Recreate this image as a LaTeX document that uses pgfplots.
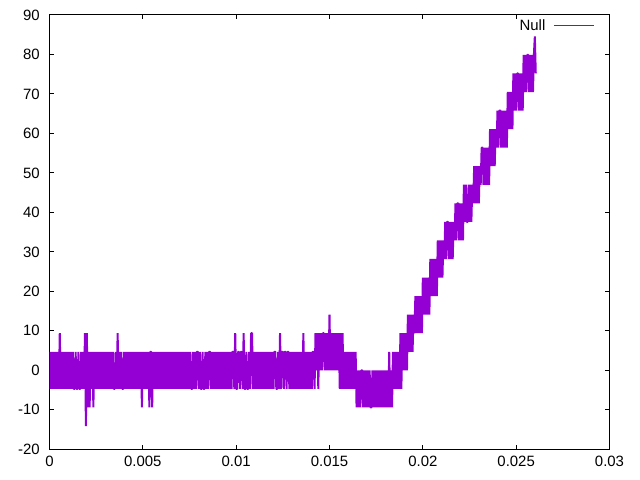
\documentclass[border=0pt]{standalone}
\usepackage{fontspec}
\setmainfont{Liberation Sans}
\usepackage{pgfplots}
\pgfplotsset{compat=1.18}
\definecolor{gpviolet}{RGB}{148,0,211}
\begin{document}
\begin{tikzpicture}
\path[use as bounding box] (-49.5bp,-30.7bp) rectangle (590.5bp,449.3bp);
\begin{axis}[
  at={(0,0)}, anchor=south west,
  scale only axis, width=560bp, height=434.3bp,
  xmin=0, xmax=600, ymin=-20, ymax=90,
  xtick={0,100,200,300,400,500,600},
  xticklabels={0,0.005,0.01,0.015,0.02,0.025,0.03},
  ytick={-20,-10,0,10,20,30,40,50,60,70,80,90},
  yticklabels={-20,-10,0,10,20,30,40,50,60,70,80,90},
  scaled x ticks=false,
  tick align=inside, major tick length=4.5bp,
  tick style={black, line width=1bp},
  axis line style={black, line width=1bp},
  ticklabel style={font=\fontsize{15}{17}\selectfont, inner sep=0pt},
  xticklabel style={yshift=-7bp},
  yticklabel style={xshift=-9.6bp},
  legend style={draw=none, fill=none, inner sep=0pt, outer sep=0pt,
    at={(axis description cs:0.9729,0.9747)}, anchor=east,
    nodes={inner sep=0pt}, column sep=8bp,
    font=\fontsize{15}{17}\selectfont},
  legend plot pos=right,
  legend image code/.code={\draw[#1, line width=1bp] (0bp,0bp) -- (40bp,0bp);},
]
\addplot[gpviolet, line width=2bp, line join=bevel] table[row sep=\\] {
x y\\
0 -4.7\\1 4.7\\2 -4.7\\3 4.7\\4 -4.7\\5 4.7\\6 -4.7\\7 4.7\\8 -4.7\\9 4.7\\
10 -4.7\\11 9.4\\12 -4.7\\13 4.7\\14 -4.7\\15 4.7\\16 -4.7\\17 4.7\\18 -4.7\\19 4.7\\
20 -4.7\\21 4.7\\22 -4.7\\23 4.7\\24 -4.7\\25 4.7\\26 -4.7\\27 -4.7\\28 4.7\\29 -4.7\\
30 -4.7\\31 4.7\\32 -4.7\\33 -4.7\\34 4.7\\35 -4.7\\36 4.7\\37 -4.7\\38 9.4\\39 -14.1\\
40 9.4\\41 -9.4\\42 4.7\\43 -9.4\\44 4.7\\45 -4.7\\46 4.7\\47 -9.4\\48 4.7\\49 -4.7\\
50 4.7\\51 -4.7\\52 4.7\\53 -4.7\\54 4.7\\55 -4.7\\56 4.7\\57 -4.7\\58 4.7\\59 -4.7\\
60 4.7\\61 -4.7\\62 4.7\\63 -4.7\\64 4.7\\65 -4.7\\66 4.7\\67 -4.7\\68 4.7\\69 -4.7\\
70 -4.7\\71 4.7\\72 -4.7\\73 9.4\\74 -4.7\\75 4.7\\76 -4.7\\77 4.7\\78 -4.7\\79 -4.7\\
80 4.7\\81 -4.7\\82 4.7\\83 -4.7\\84 4.7\\85 -4.7\\86 4.7\\87 -4.7\\88 4.7\\89 -4.7\\
90 4.7\\91 -4.7\\92 4.7\\93 -4.7\\94 4.7\\95 -4.7\\96 4.7\\97 -4.7\\98 4.7\\99 -9.4\\
100 4.7\\101 -4.7\\102 4.7\\103 -4.7\\104 4.7\\105 -4.7\\106 4.7\\107 -9.4\\108 4.7\\109 4.7\\
110 -9.4\\111 4.7\\112 -4.7\\113 4.7\\114 -4.7\\115 4.7\\116 -4.7\\117 4.7\\118 -4.7\\119 4.7\\
120 -4.7\\121 4.7\\122 -4.7\\123 4.7\\124 -4.7\\125 4.7\\126 -4.7\\127 4.7\\128 -4.7\\129 4.7\\
130 -4.7\\131 4.7\\132 -4.7\\133 4.7\\134 -4.7\\135 4.7\\136 -4.7\\137 4.7\\138 -4.7\\139 4.7\\
140 -4.7\\141 4.7\\142 -4.7\\143 4.7\\144 -4.7\\145 4.7\\146 -4.7\\147 4.7\\148 -4.7\\149 4.7\\
150 -4.7\\151 4.7\\152 -4.7\\153 -4.7\\154 4.7\\155 -4.7\\156 4.7\\157 -4.7\\158 4.7\\159 4.7\\
160 -4.7\\161 4.7\\162 -4.7\\163 -4.7\\164 4.7\\165 -4.7\\166 -4.7\\167 4.7\\168 -4.7\\169 4.7\\
170 -4.7\\171 4.7\\172 4.7\\173 -4.7\\174 4.7\\175 -4.7\\176 4.7\\177 -4.7\\178 4.7\\179 -4.7\\
180 4.7\\181 -4.7\\182 4.7\\183 -4.7\\184 4.7\\185 -4.7\\186 4.7\\187 -4.7\\188 4.7\\189 -4.7\\
190 4.7\\191 -4.7\\192 4.7\\193 -4.7\\194 4.7\\195 -4.7\\196 4.7\\197 4.7\\198 -4.7\\199 9.4\\
200 -4.7\\201 -4.7\\202 4.7\\203 4.7\\204 -4.7\\205 4.7\\206 4.7\\207 -4.7\\208 9.4\\209 -4.7\\
210 -4.7\\211 4.7\\212 -4.7\\213 -4.7\\214 4.7\\215 -4.7\\216 9.4\\217 9.4\\218 -4.7\\219 4.7\\
220 -4.7\\221 4.7\\222 -4.7\\223 4.7\\224 -4.7\\225 4.7\\226 -4.7\\227 4.7\\228 -4.7\\229 4.7\\
230 -4.7\\231 4.7\\232 -4.7\\233 4.7\\234 -4.7\\235 4.7\\236 -4.7\\237 4.7\\238 -4.7\\239 4.7\\
240 -4.7\\241 4.7\\242 4.7\\243 -4.7\\244 -4.7\\245 4.7\\246 -4.7\\247 9.4\\248 -4.7\\249 4.7\\
250 4.7\\251 -4.7\\252 4.7\\253 4.7\\254 -4.7\\255 4.7\\256 4.7\\257 -4.7\\258 4.7\\259 -4.7\\
260 4.7\\261 -4.7\\262 4.7\\263 -4.7\\264 4.7\\265 -4.7\\266 4.7\\267 -4.7\\268 4.7\\269 -4.7\\
270 4.7\\271 -4.7\\272 9.4\\273 -4.7\\274 4.7\\275 -4.7\\276 4.7\\277 -4.7\\278 4.7\\279 -4.7\\
280 4.7\\281 -4.7\\282 4.7\\283 4.7\\284 -4.7\\285 9.4\\286 0\\287 9.4\\288 -4.7\\289 9.4\\
290 0\\291 9.4\\292 0\\293 9.4\\294 9.4\\295 0\\296 9.4\\297 0\\298 9.4\\299 0\\
300 14.1\\301 0\\302 9.4\\303 0\\304 9.4\\305 0\\306 9.4\\307 0\\308 9.4\\309 0\\
310 9.4\\311 -4.7\\312 9.4\\313 -4.7\\314 9.4\\315 -4.7\\316 4.7\\317 -4.7\\318 4.7\\319 -4.7\\
320 4.7\\321 -4.7\\322 4.7\\323 -4.7\\324 4.7\\325 -4.7\\326 4.7\\327 -4.7\\328 4.7\\329 -9.4\\
330 0\\331 -9.4\\332 0\\333 -9.4\\334 0\\335 0\\336 -9.4\\337 0\\338 -9.4\\339 0\\
340 -9.4\\341 0\\342 -9.4\\343 0\\344 -9.4\\345 -9.4\\346 0\\347 -9.4\\348 0\\349 -9.4\\
350 0\\351 -9.4\\352 0\\353 -9.4\\354 0\\355 -9.4\\356 0\\357 -9.4\\358 0\\359 -9.4\\
360 0\\361 -9.4\\362 0\\363 -9.4\\364 4.7\\365 -9.4\\366 0\\367 -9.4\\368 4.7\\369 -4.7\\
370 4.7\\371 -4.7\\372 4.7\\373 -4.7\\374 4.7\\375 -4.7\\376 9.4\\377 -4.7\\378 9.4\\379 0\\
380 9.4\\381 0\\382 9.4\\383 0\\384 14.1\\385 4.7\\386 14.1\\387 4.7\\388 14.1\\389 4.7\\
390 14.1\\391 9.4\\392 18.8\\393 9.4\\394 18.8\\395 9.4\\396 18.8\\397 9.4\\398 18.8\\399 9.4\\
400 23.5\\401 14.1\\402 23.5\\403 14.1\\404 23.5\\405 14.1\\406 23.5\\407 14.1\\408 28.2\\409 18.8\\
410 28.2\\411 18.8\\412 28.2\\413 18.8\\414 28.2\\415 18.8\\416 32.9\\417 23.5\\418 32.9\\419 23.5\\
420 32.9\\421 23.5\\422 32.9\\423 28.2\\424 37.6\\425 28.2\\426 37.6\\427 37.6\\428 28.2\\429 37.6\\
430 28.2\\431 37.6\\432 28.2\\433 37.6\\434 32.9\\435 42.3\\436 32.9\\437 42.3\\438 42.3\\439 32.9\\
440 42.3\\441 32.9\\442 42.3\\443 32.9\\444 47\\445 37.6\\446 47\\447 37.6\\448 37.6\\449 47\\
450 37.6\\451 47\\452 37.6\\453 47\\454 42.3\\455 51.7\\456 42.3\\457 51.7\\458 42.3\\459 51.7\\
460 42.3\\461 51.7\\462 47\\463 56.4\\464 56.4\\465 47\\466 56.4\\467 47\\468 56.4\\469 47\\
470 56.4\\471 47\\472 61.1\\473 51.7\\474 61.1\\475 51.7\\476 61.1\\477 51.7\\478 61.1\\479 56.4\\
480 65.8\\481 56.4\\482 65.8\\483 65.8\\484 56.4\\485 65.8\\486 56.4\\487 65.8\\488 56.4\\489 65.8\\
490 56.4\\491 70.5\\492 61.1\\493 70.5\\494 61.1\\495 70.5\\496 61.1\\497 75.2\\498 65.8\\499 75.2\\
500 65.8\\501 75.2\\502 75.2\\503 65.8\\504 75.2\\505 65.8\\506 75.2\\507 65.8\\508 79.9\\509 70.5\\
510 79.9\\511 70.5\\512 79.9\\513 79.9\\514 70.5\\515 79.9\\516 70.5\\517 79.9\\518 70.5\\519 79.9\\
520 84.6\\521 75.2\\
};
\addlegendentry{Null}
\end{axis}
\end{tikzpicture}
\end{document}
